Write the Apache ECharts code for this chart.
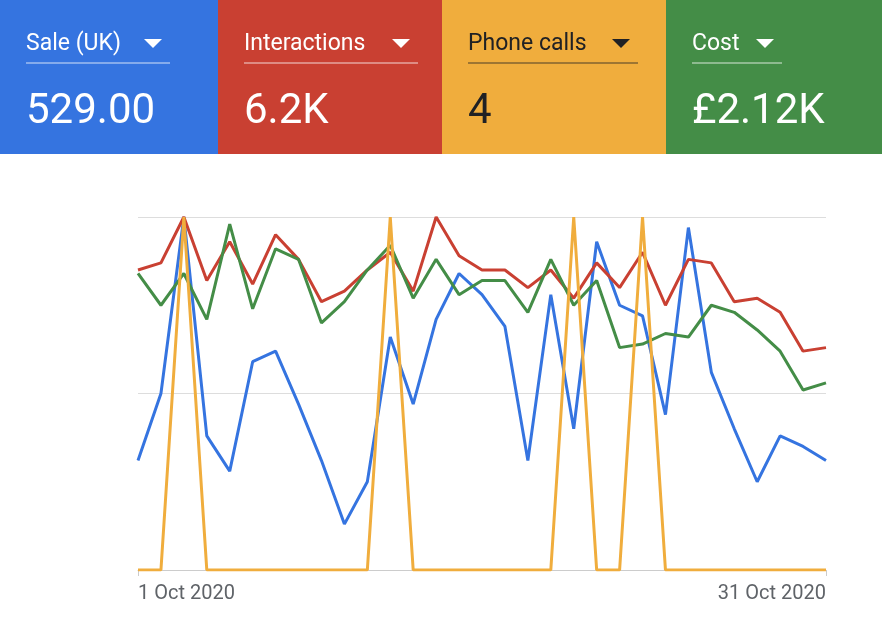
<!DOCTYPE html>
<html>
<head>
<meta charset="utf-8">
<script src="https://cdn.jsdelivr.net/npm/echarts@6/dist/echarts.min.js"></script>
<style>html,body{margin:0;padding:0;background:#fff}#chart{width:882px;height:634px}</style>
</head>
<body>
<div id="chart"></div>
<script>
// values are each metric scaled to its own max (0..100)
const days = [];
for (let d = 1; d <= 31; d++) days.push(d + ' Oct 2020');

const sale = [31,50,100,38,28,59,62,47,31,13,25,66,47,71,84,78,69,31,78,40,93,75,72,44,97,56,40,25,38,35,31];
const interactions = [85,87,100,82,93,81,95,88,76,79,85,90,79,100,89,85,85,80,85,77,87,80,90,75,88,87,76,77,73,62,63];
const phoneCalls = [0,0,1,0,0,0,0,0,0,0,0,1,0,0,0,0,0,0,0,1,0,0,1,0,0,0,0,0,0,0,0];
const cost = [84,75,84,71,98,74,91,88,70,76,85,92,77,88,78,82,82,73,88,75,82,63,64,67,66,75,73,68,62,51,53];

const tiles = [
  {label: 'Sale (UK)', value: '529.00', color: '#3574e0', x: 0, w: 218, text: '#fff', ul: 144},
  {label: 'Interactions', value: '6.2K', color: '#c94032', x: 218, w: 224, text: '#fff', ul: 174},
  {label: 'Phone calls', value: '4', color: '#f0ad3d', x: 442, w: 224, text: '#202124', ul: 170},
  {label: 'Cost', value: '£2.12K', color: '#448d47', x: 666, w: 216, text: '#fff', ul: 90}
];

const graphic = [];
tiles.forEach(t => {
  const lx = t.x + 26;
  graphic.push({type: 'rect', shape: {x: t.x, y: 0, width: t.w, height: 154}, style: {fill: t.color}});
  graphic.push({type: 'text', x: lx, y: 44, style: {text: t.label, fill: t.text, font: '23px Roboto', textVerticalAlign: 'middle'}});
  graphic.push({type: 'polygon', shape: {points: [[lx + t.ul - 26, 39], [lx + t.ul - 8, 39], [lx + t.ul - 17, 48]]}, style: {fill: t.text}});
  graphic.push({type: 'line', shape: {x1: lx, y1: 63, x2: lx + t.ul, y2: 63}, style: {stroke: t.text, lineWidth: 1, opacity: 0.8}});
  graphic.push({type: 'text', x: lx, y: 112, style: {text: t.value, fill: t.text, font: '42px Roboto', textVerticalAlign: 'middle'}});
});

const chart = echarts.init(document.getElementById('chart'));
function line(name, data, color, axis) {
  return {name, type: 'line', data, yAxisIndex: axis, symbol: 'none', lineStyle: {color, width: 3}, itemStyle: {color}, animation: false};
}
chart.setOption({
  animation: false,
  graphic,
  grid: {left: 138, right: 56, top: 217, bottom: 64},
  xAxis: {
    type: 'category', data: days, boundaryGap: false,
    axisLine: {lineStyle: {color: '#ccc'}},
    axisTick: {show: true, interval: i => i === 0 || i === 30, length: 6, lineStyle: {color: '#ccc'}},
    axisLabel: {
      interval: i => i === 0 || i === 30,
      color: '#5f6368', fontSize: 20, fontFamily: 'Roboto', margin: 14,
      alignMinLabel: 'left', alignMaxLabel: 'right'
    }
  },
  yAxis: [
    {type: 'value', min: 0, max: 100, interval: 50, axisLabel: {show: false}, splitLine: {lineStyle: {color: '#ddd', width: 1}}},
    {type: 'value', min: 0, max: 1, show: false, splitLine: {show: false}}
  ],
  series: [
    line('Sale (UK)', sale, '#3574e0', 0),
    line('Interactions', interactions, '#c94032', 0),
    line('Cost', cost, '#448d47', 0),
    line('Phone calls', phoneCalls, '#f0ad3d', 1)
  ]
});
</script>
</body>
</html>
